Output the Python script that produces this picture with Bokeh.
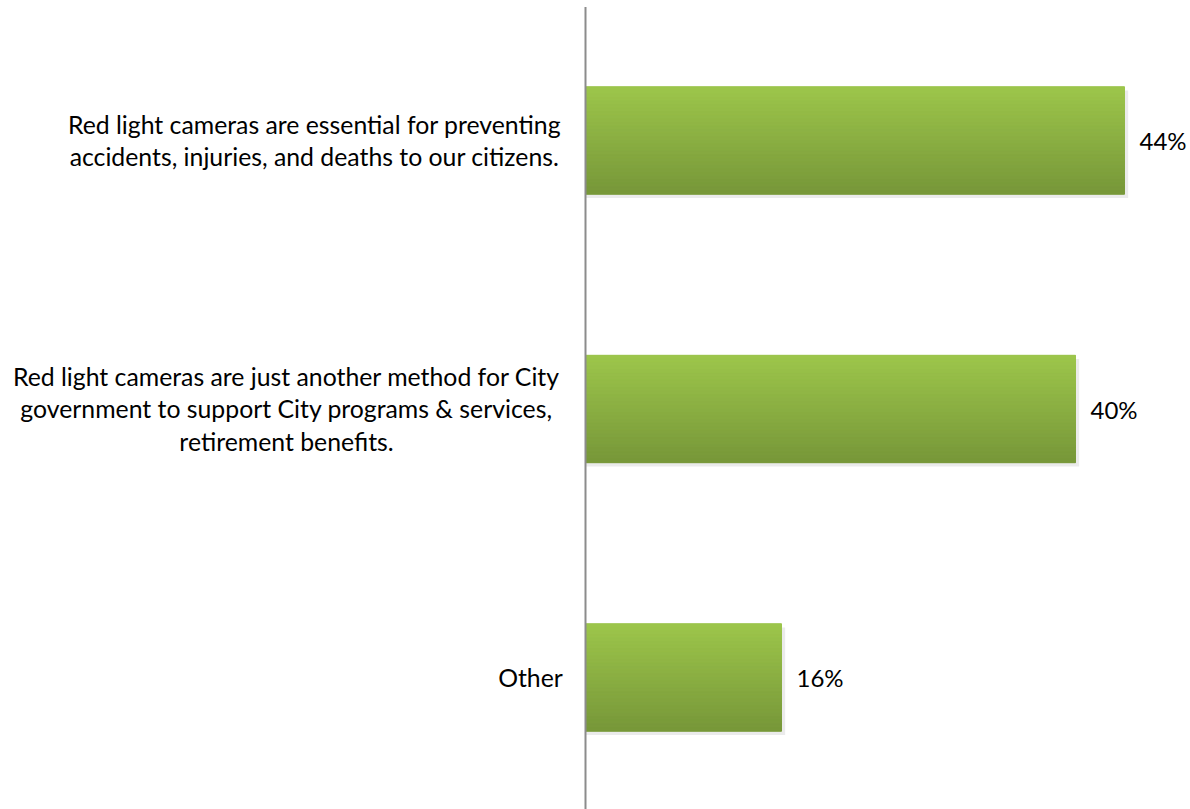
import numpy as np
from bokeh.plotting import figure
from bokeh.models import Range1d, ColumnDataSource
from bokeh.core.properties import value
from bokeh.embed import file_html
from bokeh.resources import INLINE

categories = [
    "Red light cameras are essential for preventing\naccidents, injuries, and deaths to our citizens.",
    "Red light cameras are just another method for City\ngovernment to support City programs & services,\nretirement benefits.",
    "Other",
]
values = [44, 40, 16]
value_labels = ["44%", "40%", "16%"]

# layout / style (not data)
label_offsets = [-271, -299, -55]   # screen px from axis to label centre
BAR_H = 0.40
TOP_COL = np.array([0x9D, 0xC6, 0x4B])
BOT_COL = np.array([0x77, 0x97, 0x39])
FONT = "Lato"
PX_PER_PCT = 12.25
PX_PER_CAT = 268.5

ypos = list(range(len(categories)))

W, H = 1190, 809
LEFT = 585
p = figure(width=W, height=H, output_backend="svg", toolbar_location=None,
           x_range=Range1d(-LEFT / PX_PER_PCT, (W - LEFT) / PX_PER_PCT),
           y_range=Range1d((H - 140) / PX_PER_CAT, -140 / PX_PER_CAT),
           min_border_left=0, min_border_right=0, min_border_top=0, min_border_bottom=0)
p.xaxis.visible = False
p.yaxis.visible = False
p.xgrid.visible = False
p.ygrid.visible = False
p.outline_line_color = None

# soft shadow
p.hbar(y=[y + 0.014 for y in ypos], right=[v + 0.3 for v in values], left=0,
       height=BAR_H, fill_color="#000000", fill_alpha=0.08, line_color=None)

# base bar (mid colour) so strips have no seams
mid = (TOP_COL + BOT_COL) / 2
p.hbar(y=ypos, right=values, left=0, height=BAR_H,
       fill_color="#%02x%02x%02x" % tuple(int(round(x)) for x in mid), line_color=None)

# gradient via thin strips
N = 30
ys, rights, cols = [], [], []
for y, v in zip(ypos, values):
    for k in range(N):
        t = (k + 0.5) / N
        c = TOP_COL + (BOT_COL - TOP_COL) * t
        ys.append(y - BAR_H / 2 + BAR_H * (k + 0.5) / N)
        rights.append(v)
        cols.append("#%02x%02x%02x" % tuple(int(round(x)) for x in c))
p.hbar(y=ys, right=rights, left=0, height=BAR_H / N, fill_color=cols,
       line_color=cols, line_width=1)

# vertical axis line at x = 0
p.segment(x0=[0], x1=[0], y0=[-0.497], y1=[3.0], line_color="#8c8c8c", line_width=2)

# value labels
src = ColumnDataSource(dict(x=values, y=ypos, t=value_labels))
p.text(x="x", y="y", text="t", source=src, x_offset=15, text_align="left",
       text_baseline="middle", text_font=value(FONT), text_font_size="24px",
       text_color="#000000")

# category labels
src2 = ColumnDataSource(dict(x=[0] * len(categories), y=ypos, t=categories, xo=label_offsets))
p.text(x="x", y="y", text="t", source=src2, x_offset="xo", text_align="center",
       text_baseline="middle", text_font=value(FONT), text_font_size="24.8px",
       text_line_height=1.13, text_color="#000000")

open("out.html", "w").write(file_html(p, INLINE))
